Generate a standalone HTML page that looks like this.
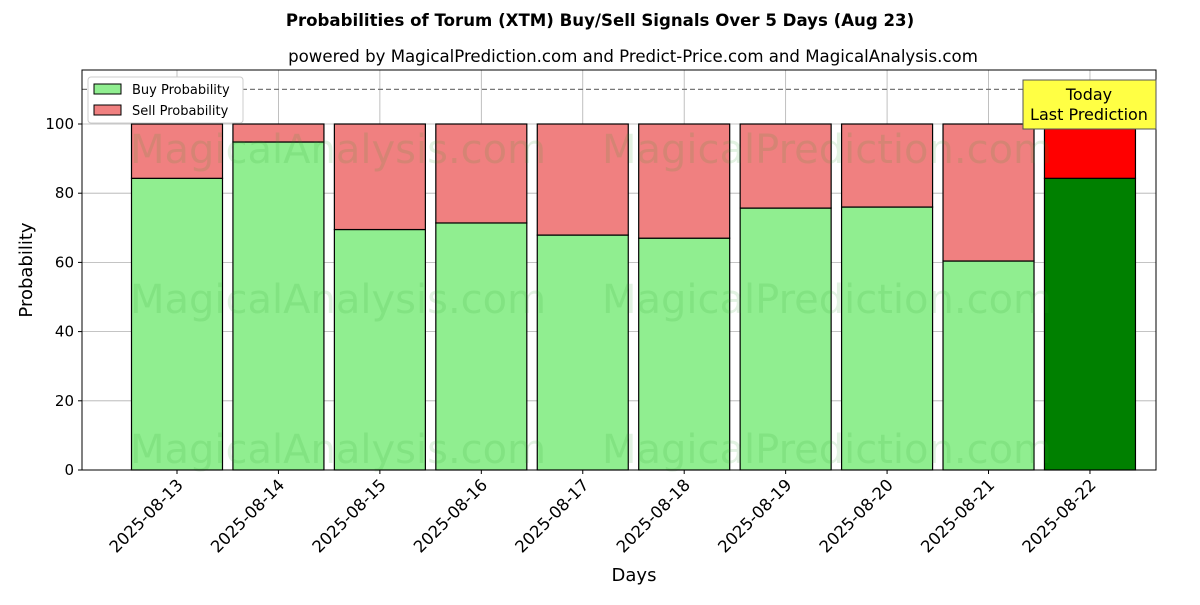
<!DOCTYPE html>
<html><head><meta charset="utf-8"><style>
body{margin:0;background:#fff;font-family:"Liberation Sans","DejaVu Sans",sans-serif}
svg text{font-family:"DejaVu Sans","Liberation Sans",sans-serif}
</style></head><body>
<svg id="c" width="1200" height="600" xmlns="http://www.w3.org/2000/svg">
<text x="600" y="26" text-anchor="middle" font-size="16.6" font-weight="bold">Probabilities of Torum (XTM) Buy/Sell Signals Over 5 Days (Aug 23)</text>
<text x="633" y="62" text-anchor="middle" font-size="16.6">powered by MagicalPrediction.com and Predict-Price.com and MagicalAnalysis.com</text>
<g id="grid"></g><g id="bars"></g>
<g id="wm" fill="#2ca02c" opacity="0.13" font-size="40">
<text x="130" y="163">MagicalAnalysis.com</text><text x="602" y="163">MagicalPrediction.com</text>
<text x="130" y="313">MagicalAnalysis.com</text><text x="602" y="313">MagicalPrediction.com</text>
<text x="130" y="463">MagicalAnalysis.com</text><text x="602" y="463">MagicalPrediction.com</text>
</g>
<g id="axes"></g>
<text x="634" y="581" text-anchor="middle" font-size="18">Days</text>
<text transform="translate(32,270) rotate(-90)" text-anchor="middle" font-size="18">Probability</text>
<g>
<rect x="88" y="77" width="155" height="46" fill="#fff" stroke="#ccc" rx="3"/>
<rect x="94" y="84" width="27" height="10" fill="#90ee90" stroke="#000"/>
<text x="132" y="94" font-size="13">Buy Probability</text>
<rect x="94" y="105" width="27" height="10" fill="#f08080" stroke="#000"/>
<text x="132" y="115" font-size="13">Sell Probability</text>
</g>
<g>
<rect x="1023" y="80" width="133" height="49" fill="#ffff44" stroke="#555"/>
<text x="1089" y="100" text-anchor="middle" font-size="16">Today</text>
<text x="1089" y="120" text-anchor="middle" font-size="16">Last Prediction</text>
</g>
</svg>
<script>
const days=["2025-08-13","2025-08-14","2025-08-15","2025-08-16","2025-08-17","2025-08-18","2025-08-19","2025-08-20","2025-08-21","2025-08-22"];
const buy=[84.3,94.8,69.5,71.4,67.9,67.0,75.7,76.0,60.4,84.3];
const sell=[15.7,5.2,30.5,28.6,32.1,33.0,24.3,24.0,39.6,15.7];
const yTicks=[0,20,40,60,80,100];
const NS="http://www.w3.org/2000/svg";
const L=82,R=1156,T=70,B=470;
const y=v=>B-v*3.46;
const x=i=>177+i*101.44;
const bw=91;
function mk(p,t,a){const e=document.createElementNS(NS,t);for(const k in a)e.setAttribute(k,a[k]);document.getElementById(p).appendChild(e);return e;}
yTicks.forEach(v=>{
 const g=mk('grid','line',{x1:L,x2:R,y1:y(v),y2:y(v),stroke:'#b0b0b0','stroke-width':0.8});
 
 
 mk('axes','line',{x1:L-4,x2:L,y1:y(v),y2:y(v),stroke:'#000'});
 const t=mk('axes','text',{x:L-8,y:y(v)+5,'text-anchor':'end','font-size':15});t.textContent=v;
 
 
});
days.forEach((d,i)=>{
 const g=mk('grid','line',{x1:x(i),x2:x(i),y1:T,y2:B,stroke:'#b0b0b0','stroke-width':0.8});
 
 
 const last=i===days.length-1;
 const b=mk('bars','rect',{x:x(i)-bw/2,y:y(buy[i]),width:bw,height:y(0)-y(buy[i]),fill:last?'#008000':'#90ee90',stroke:'#000','stroke-width':1.2});
 
 
 const s=mk('bars','rect',{x:x(i)-bw/2,y:y(buy[i]+sell[i]),width:bw,height:y(buy[i])-y(buy[i]+sell[i]),fill:last?'#ff0000':'#f08080',stroke:'#000','stroke-width':1.2});
 
 
 mk('axes','line',{x1:x(i),x2:x(i),y1:B,y2:B+4,stroke:'#000'});
 const t=mk('axes','text',{transform:`translate(${x(i)+7},${B+16}) rotate(-45)`,'text-anchor':'end','font-size':16.5});t.textContent=d;
 
 
});
const dl=mk('axes','line',{x1:L,x2:R,y1:y(110),y2:y(110),stroke:'#777','stroke-dasharray':'5,3','stroke-width':1.2});


const fr=mk('axes','rect',{x:L,y:T,width:R-L,height:B-T,fill:'none',stroke:'#000','stroke-width':1});


</script>
</body></html>
